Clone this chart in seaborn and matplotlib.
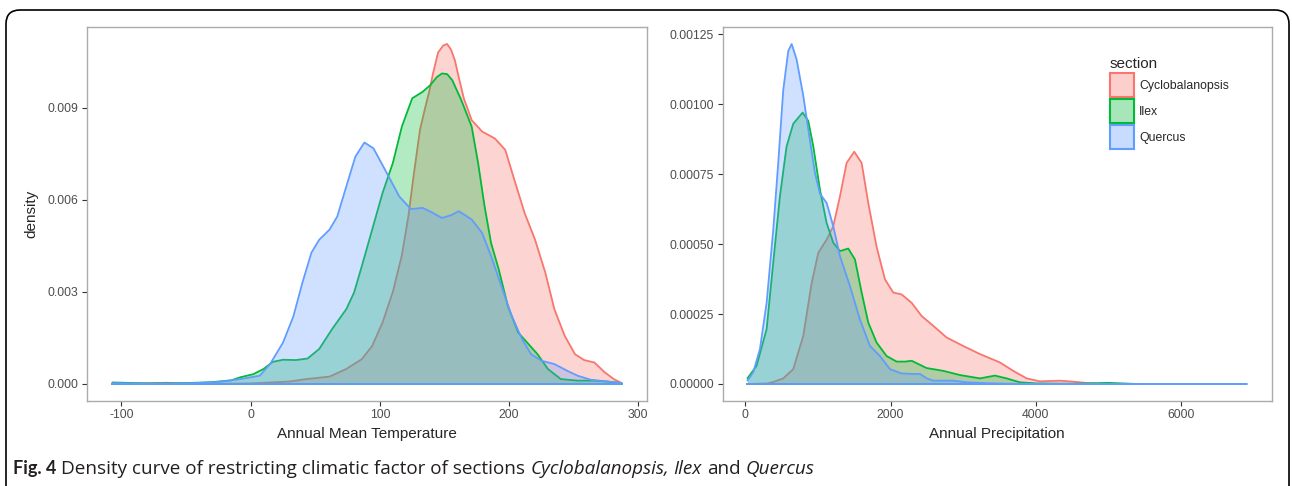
import numpy as np
import pandas as pd
import seaborn as sns
import matplotlib.pyplot as plt
from matplotlib.patches import Patch, FancyBboxPatch
from matplotlib.colors import to_rgba
from matplotlib.ticker import FormatStrFormatter
from matplotlib.transforms import IdentityTransform

# ---------------------------------------------------------------
# density curves
# ---------------------------------------------------------------
sections = ["Cyclobalanopsis", "Ilex", "Quercus"]
colors = ["#F8766D", "#00BA38", "#619CFF"]

# Annual Mean Temperature
temp_cyclo_x = [-107, -90, -75, -65, -55, -40, -20, 0, 15, 30, 43, 61, 74, 86, 94, 102, 110, 117, 122,
                126, 131, 135, 138, 141, 145, 149, 152, 155, 158, 161, 165, 171, 179, 189, 197, 204,
                212, 220, 228, 235, 243, 251, 258, 266, 274, 281, 287]
temp_cyclo_y = [0, 0.00001, 0.00003, 0.00004, 0.00002, 0.00001, 0.00001, 0.00002, 0.00005, 0.00008,
                0.00016, 0.00024, 0.00049, 0.00081, 0.00124, 0.0020, 0.0030, 0.0042, 0.00546,
                0.00676, 0.00828, 0.0090, 0.0095, 0.0101, 0.0108, 0.01103, 0.01108, 0.0109, 0.01055,
                0.0100, 0.0093, 0.0086, 0.00823, 0.0080, 0.00763, 0.00666, 0.00557, 0.00471, 0.00363,
                0.00244, 0.00157, 0.00097, 0.00078, 0.0007, 0.00038, 0.00016, 0.00003]

temp_ilex_x = [-107, -80, -50, -30, -15, -8, 2, 10, 17, 25, 35, 44, 53, 63, 74, 80, 86, 94, 102, 110,
               117, 125, 133, 139, 144, 148, 152, 156, 163, 171, 176, 181, 186, 192, 199, 207, 215,
               222, 230, 240, 253, 266, 276, 287]
temp_ilex_y = [0.00005, 0.00002, 0.00003, 0.00006, 0.00012, 0.00022, 0.00032, 0.00049, 0.00072,
               0.00079, 0.00078, 0.00083, 0.00114, 0.00179, 0.00244, 0.00298, 0.00384, 0.00503,
               0.00622, 0.0072, 0.00839, 0.00931, 0.00952, 0.00974, 0.0100, 0.01012, 0.0101, 0.0099,
               0.00925, 0.00839, 0.0072, 0.00579, 0.0046, 0.00373, 0.00254, 0.00168, 0.0013,
               0.00097, 0.00049, 0.00016, 0.00011, 0.00011, 0.00008, 0.00003]

temp_quer_x = [-107, -80, -50, -30, -20, -8, 7, 15, 25, 33, 40, 47, 53, 61, 67, 74, 81, 88, 95, 104,
               115, 124, 133, 140, 148, 155, 161, 166, 171, 179, 186, 194, 202, 210, 217, 225, 235,
               245, 253, 263, 276, 287]
temp_quer_y = [0.00003, 0.00001, 0.00002, 0.00005, 0.00009, 0.00016, 0.00027, 0.00065, 0.00135,
               0.0022, 0.0033, 0.00428, 0.0047, 0.00503, 0.00546, 0.00644, 0.00741, 0.00787,
               0.00768, 0.00698, 0.00611, 0.0057, 0.00574, 0.0056, 0.00541, 0.0055, 0.00563,
               0.0055, 0.00536, 0.00493, 0.00417, 0.00319, 0.00222, 0.00146, 0.00097, 0.00076,
               0.00065, 0.00043, 0.00027, 0.00014, 0.00008, 0.00003]

# Annual Precipitation
prec_cyclo_x = [29, 300, 384, 522, 660, 798, 913, 1005, 1120, 1211, 1303, 1395, 1500, 1602, 1693,
                1808, 1923, 2037, 2153, 2291, 2428, 2588, 2773, 3001, 3231, 3507, 3690, 3875, 4058,
                4334, 4516, 4700, 4885]
prec_cyclo_y = [0, 0.000002, 0.000007, 0.00002, 0.000053, 0.000172, 0.00036, 0.000469, 0.000516,
                0.000564, 0.00067, 0.00079, 0.00083, 0.00079, 0.000647, 0.00049, 0.000374, 0.000327,
                0.00032, 0.00029, 0.000243, 0.000208, 0.000166, 0.000136, 0.000107, 0.000077,
                0.000047, 0.00002, 0.0000095, 0.0000118, 0.0000083, 0.0000036, 0]

prec_ilex_x = [29, 155, 293, 384, 476, 568, 660, 789, 867, 936, 1028, 1119, 1211, 1303, 1418, 1510,
               1602, 1693, 1808, 1946, 2084, 2200, 2291, 2497, 2726, 2956, 3231, 3438, 3599, 3783,
               4013, 4500, 5000, 5400]
prec_ilex_y = [0.00002, 0.000065, 0.000196, 0.000433, 0.00067, 0.000849, 0.00093, 0.00097, 0.00094,
               0.000849, 0.000694, 0.000576, 0.000505, 0.000475, 0.000484, 0.000445, 0.000327,
               0.00022, 0.000148, 0.0001, 0.00008, 0.00008, 0.000083, 0.000057, 0.000047, 0.000032,
               0.00002, 0.00003, 0.00002, 0.000006, 0.000002, 0.000001, 0.000004, 0]

prec_quer_x = [29, 109, 201, 293, 384, 453, 522, 591, 638, 706, 798, 890, 959, 1028, 1120, 1211,
               1303, 1441, 1579, 1716, 1854, 1992, 2150, 2300, 2405, 2500, 2588, 2864, 3047, 3323,
               3600, 4500, 5500, 6904]
prec_quer_y = [0.000012, 0.000042, 0.000125, 0.00029, 0.00055, 0.00079, 0.00105, 0.00119, 0.001215,
               0.00116, 0.00103, 0.00087, 0.000754, 0.00068, 0.000647, 0.000564, 0.000457, 0.00035,
               0.00023, 0.000136, 0.0001, 0.000053, 0.000038, 0.000036, 0.000036, 0.00002, 0.000012,
               0.000012, 0.000006, 0.000003, 0.000001, 0, 0, 0]


def long_frame(xs, ys):
    rows = []
    for s, x, y in zip(sections, xs, ys):
        rows.append(pd.DataFrame({"section": s, "x": x, "density": y}))
    return pd.concat(rows, ignore_index=True)


temp_df = long_frame([temp_cyclo_x, temp_ilex_x, temp_quer_x], [temp_cyclo_y, temp_ilex_y, temp_quer_y])
prec_df = long_frame([prec_cyclo_x, prec_ilex_x, prec_quer_x], [prec_cyclo_y, prec_ilex_y, prec_quer_y])

# ---------------------------------------------------------------
# style
# ---------------------------------------------------------------
sns.set_theme(style="white")
plt.rcParams["font.family"] = ["Liberation Sans", "DejaVu Sans"]
plt.rcParams["axes.unicode_minus"] = False

fig = plt.figure(figsize=(12.92, 4.86), dpi=100)
ax1 = fig.add_axes([87 / 1292, 85 / 486, 560 / 1292, 374 / 486])
ax2 = fig.add_axes([722.5 / 1292, 85 / 486, 549 / 1292, 374 / 486])


def draw_density(ax, df):
    for i, (s, c) in enumerate(zip(sections, colors)):
        sub = df[df["section"] == s]
        ax.fill_between(sub["x"], 0, sub["density"], color=c, alpha=0.3, linewidth=0, zorder=1 + 2 * i)
        sns.lineplot(data=sub, x="x", y="density", color=c, linewidth=1.3, sort=False,
                     estimator=None, ax=ax, zorder=2 + 2 * i)
        ax.plot([sub["x"].min(), sub["x"].max()], [0, 0], color=c, linewidth=1.3, zorder=2 + 2 * i)


def style_axes(ax, xmin, xmax, ymax):
    xr = xmax - xmin
    ax.set_xlim(xmin - 0.05 * xr, xmax + 0.05 * xr)
    ax.set_ylim(-0.05 * ymax, ymax * 1.05)
    for sp in ax.spines.values():
        sp.set_color("#ABABAB")
        sp.set_linewidth(1.0)
    ax.tick_params(direction="out", length=3.5, width=0.8, color="#333333",
                   labelcolor="#4D4D4D", labelsize=8.8, pad=2.5, bottom=True, left=True)


draw_density(ax1, temp_df)
style_axes(ax1, -107, 287, 0.01108)
ax1.set_xticks([-100, 0, 100, 200, 300])
ax1.set_yticks([0, 0.003, 0.006, 0.009])
ax1.yaxis.set_major_formatter(FormatStrFormatter("%.3f"))
ax1.set_xlabel("Annual Mean Temperature", fontsize=11, labelpad=4)
ax1.set_ylabel("density", fontsize=11, labelpad=7)

draw_density(ax2, prec_df)
style_axes(ax2, 29, 6904, 0.001215)
ax2.set_xticks([0, 2000, 4000, 6000])
ax2.set_yticks([0, 0.00025, 0.0005, 0.00075, 0.001, 0.00125])
ax2.yaxis.set_major_formatter(FormatStrFormatter("%.5f"))
ax2.set_xlabel("Annual Precipitation", fontsize=11, labelpad=4)
ax2.set_ylabel("")

handles = [Patch(facecolor=to_rgba(c, 0.35), edgecolor=c, linewidth=1.5, label=s)
           for s, c in zip(sections, colors)]
ax2.legend(handles=handles, title="section", loc="upper left", bbox_to_anchor=(0.705, 0.92),
           frameon=False, fontsize=8.8, title_fontsize=11, handlelength=1.97, handleheight=2.65,
           handletextpad=0.45, labelspacing=0.16, alignment="left", borderaxespad=0, borderpad=0)

# outer rounded frame
frame = FancyBboxPatch((6, -30), 1283, 506, boxstyle="round,pad=0,rounding_size=14",
                       transform=IdentityTransform(), facecolor="none", edgecolor="black",
                       linewidth=1.2, zorder=10)
fig.add_artist(frame)

# caption with mixed styles
reg_font = ["Open Sans", "DejaVu Sans"]
reg_size = 13.6
pieces = [("Fig. 4", "bold", "normal", ["Lato", "DejaVu Sans"], 13),
          ("Density curve of restricting climatic factor of sections", "normal", "normal", reg_font, reg_size),
          ("Cyclobalanopsis,", "normal", "italic", reg_font, reg_size),
          ("Ilex", "normal", "italic", reg_font, reg_size),
          ("and", "normal", "normal", reg_font, reg_size),
          ("Quercus", "normal", "italic", reg_font, reg_size)]
renderer = fig.canvas.get_renderer()
probe1 = fig.text(0, 0, "x x", fontsize=reg_size, family=reg_font)
probe2 = fig.text(0, 0, "xx", fontsize=reg_size, family=reg_font)
space_w = probe1.get_window_extent(renderer).width - probe2.get_window_extent(renderer).width
probe1.remove()
probe2.remove()
x_px = 13
for txt, weight, style, fam, size in pieces:
    t = fig.text(x_px / 1292, 12 / 486, txt, fontsize=size, family=fam, weight=weight,
                 style=style, va="baseline", ha="left", color="#231F20")
    x_px += t.get_window_extent(renderer).width + space_w

fig.savefig("out.png", dpi=100)
